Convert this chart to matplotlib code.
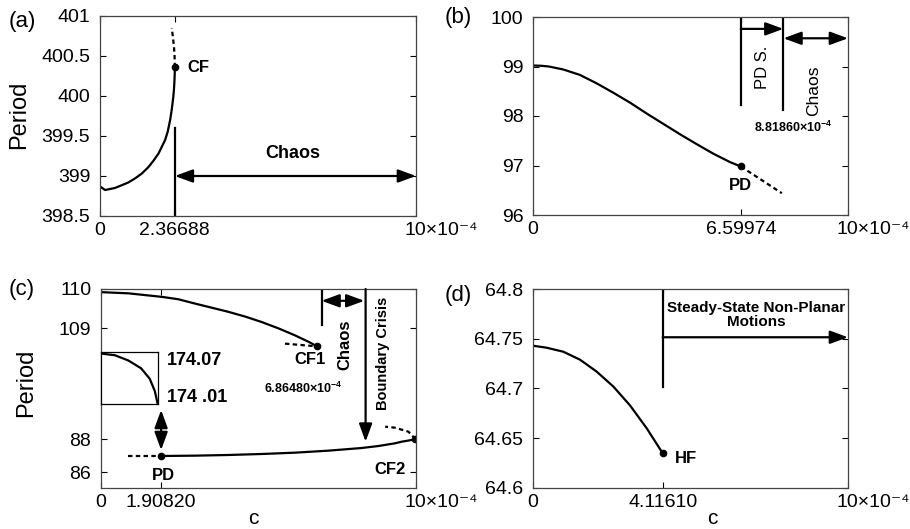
import numpy as np
import matplotlib
matplotlib.use('Agg')
import matplotlib.pyplot as plt
import matplotlib.transforms as mtransforms

plt.rcParams['font.family'] = ['Liberation Sans', 'DejaVu Sans']
plt.rcParams['mathtext.fontset'] = 'custom'
plt.rcParams['mathtext.rm'] = 'Liberation Sans'
plt.rcParams['mathtext.bf'] = 'Liberation Sans:bold'

# ---------------- data (c in units of 1e-4) ----------------
# (a)
ca_solid = [0.0, 0.16, 0.47, 0.69, 0.90, 1.11, 1.32, 1.53, 1.69, 1.85, 1.95, 2.06, 2.14,
            2.22, 2.27, 2.32, 2.34, 2.355, 2.365, 2.36688]
pa_solid = [398.87, 398.825, 398.85, 398.885, 398.92, 398.97, 399.03, 399.11, 399.19, 399.28,
            399.36, 399.45, 399.55, 399.70, 399.83, 399.99, 400.08, 400.18, 400.28, 400.36]
ca_dash = [2.36688, 2.36, 2.34, 2.30, 2.27]
pa_dash = [400.36, 400.50, 400.62, 400.76, 400.85]
ca_cf = 2.36688
pa_cf = 400.36

# (b)
cb_solid = [0.0, 0.25, 0.5, 0.96, 1.49, 2.02, 2.55, 3.08, 3.61, 4.14, 4.67, 5.20, 5.72, 6.25, 6.59974]
pb_solid = [99.02, 99.015, 99.0, 98.94, 98.83, 98.66, 98.47, 98.27, 98.05, 97.84, 97.63, 97.43,
            97.24, 97.07, 96.98]
cb_dash = [6.59974, 7.90]
pb_dash = [96.98, 96.44]
cb_pd = 6.59974
pb_pd = 96.98
cb_pds = 7.95

# (c)
cc_up = [0.0, 0.87, 1.93, 2.45, 2.98, 4.04, 4.57, 5.10, 5.63, 6.16, 6.58, 6.8648]
pc_up = [109.92, 109.89, 109.80, 109.74, 109.63, 109.42, 109.30, 109.16, 109.00, 108.82, 108.66, 108.54]
cc_up_dash = [5.84, 6.8648]
pc_up_dash = [108.61, 108.54]
cc_low = [1.9082, 2.98, 4.04, 5.10, 6.16, 7.22, 7.75, 8.28, 8.81, 9.33, 9.55, 9.86, 9.98]
pc_low = [86.98, 87.00, 87.04, 87.10, 87.18, 87.30, 87.38, 87.46, 87.58, 87.74, 87.84, 87.94, 88.0]
cc_low_dash_l = [0.87, 1.9082]
pc_low_dash_l = [86.98, 86.98]
cc_low_dash_r = [9.98, 9.76, 9.33, 9.02]
pc_low_dash_r = [88.0, 88.44, 88.68, 88.74]
cc_in = [0.0, 0.47, 0.92, 1.35, 1.64, 1.81, 1.9082]
pc_in = [174.068, 174.066, 174.060, 174.051, 174.039, 174.025, 174.01]

# (d)
cd = [0.0, 0.43, 0.96, 1.49, 2.02, 2.55, 3.08, 3.61, 4.1161]
pd_ = [64.743, 64.741, 64.737, 64.729, 64.717, 64.702, 64.683, 64.660, 64.635]

xt_a = [0, 2.36688, 10]; xl_a = ['0', '2.36688', '10×10⁻⁴']
xt_b = [0, 6.59974, 10]; xl_b = ['0', '6.59974', '10×10⁻⁴']
xt_c = [0, 1.90820, 10]; xl_c = ['0', '1.90820', '10×10⁻⁴']
xt_d = [0, 4.11610, 10]; xl_d = ['0', '4.11610', '10×10⁻⁴']
yt_a = [398.5, 399, 399.5, 400, 400.5, 401]; yl_a = ['398.5', '399', '399.5', '400', '400.5', '401']
yt_b = [96, 97, 98, 99, 100]
yt_c = [86, 88, 109, 110]
yt_d = [64.6, 64.65, 64.7, 64.75, 64.8]; yl_d = ['64.6', '64.65', '64.7', '64.75', '64.8']

# ---------------- figure ----------------
W, H = 910, 529
fig = plt.figure(figsize=(W / 100, H / 100), dpi=100)

def axes_px(l, t, r, b):
    return fig.add_axes([l / W, 1 - b / H, (r - l) / W, (b - t) / H])

LW = 1.6
AS = dict(mutation_scale=18, lw=LW, color='k', shrinkA=0, shrinkB=0)
SINGLE = '-|>,head_length=0.6,head_width=0.22'
DOUBLE = '<|-|>,head_length=0.6,head_width=0.22'

def arrow(ax, p0, p1, style, coords='data'):
    ax.annotate('', xy=p1, xytext=p0, xycoords=coords, textcoords=coords,
                arrowprops=dict(arrowstyle=style, **AS), annotation_clip=False)

def style_ax(ax, xt, xl, yt, yl):
    ax.set_xlim(0, 10)
    ax.set_xticks(xt)
    ax.set_xticklabels(xl)
    ax.set_yticks(yt)
    ax.set_yticklabels(yl)
    ax.tick_params(direction='in', length=4, width=0.8, top=True, right=True,
                   labelsize=14, colors='k')
    ax.tick_params(axis='x', pad=4)
    ax.tick_params(axis='y', pad=7)
    for s in ax.spines.values():
        s.set_color('#444444')
        s.set_linewidth(0.9)
    lab = ax.get_xticklabels()[-1]
    lab.set_horizontalalignment('left')
    lab.set_transform(lab.get_transform() +
                      mtransforms.ScaledTranslation(-11 / 100, 0, fig.dpi_scale_trans))

# (a)
axa = axes_px(100, 16, 416, 216)
axa.plot(ca_solid, pa_solid, color='k', lw=LW)
axa.plot(ca_dash, pa_dash, color='k', lw=LW, dashes=(2, 1.5))
axa.plot([ca_cf], [pa_cf], 'o', color='k', ms=4.5)
axa.set_ylim(398.5, 401)
style_ax(axa, xt_a, xl_a, yt_a, yl_a)
axa.plot([ca_cf, ca_cf], [398.5, 399.6], color='k', lw=LW)
arrow(axa, (ca_cf, 399), (10, 399), DOUBLE)
axa.text(2.78, 400.36, 'CF', fontsize=12, fontweight='bold', ha='left', va='center')
axa.text(6.11, 399.28, 'Chaos', fontsize=13, fontweight='bold', ha='center', va='center')

# (b)
axb = axes_px(533, 17, 848, 215)
axb.plot(cb_solid, pb_solid, color='k', lw=LW)
axb.plot(cb_dash, pb_dash, color='k', lw=LW, dashes=(2, 1.5))
axb.plot([cb_pd], [pb_pd], 'o', color='k', ms=4.5)
axb.set_ylim(96, 100)
style_ax(axb, xt_b, xl_b, yt_b, [str(v) for v in yt_b])
axb.plot([cb_pd, cb_pd], [98.22, 100], color='k', lw=LW)
axb.plot([cb_pds, cb_pds], [98.12, 100], color='k', lw=LW)
arrow(axb, (cb_pd, 99.76), (cb_pds, 99.76), SINGLE)
arrow(axb, (cb_pds, 99.57), (10, 99.57), DOUBLE)
axb.text(6.57, 96.6, 'PD', fontsize=12, fontweight='bold', ha='center', va='center')
axb.text(7.29, 98.98, 'PD S.', fontsize=12, rotation=90, ha='center', va='center')
axb.text(8.92, 98.5, 'Chaos', fontsize=12.5, rotation=90, ha='center', va='center')
axb.text(8.25, 97.76, '8.81860×10$^{\\mathbf{-4}}$', fontsize=9, fontweight='bold',
         ha='center', va='center')

# (c) broken y axis via piecewise-linear function scale
axc = axes_px(101, 289, 416, 488.3)
yk = np.array([70.0, 89.5, 107.5, 120.0])
dk = np.array([-250.4, 74.3, 101.05, 592.3])
axc.set_yscale('function', functions=(lambda y: np.interp(y, yk, dk),
                                      lambda d: np.interp(d, dk, yk)))
axc.plot(cc_up, pc_up, color='k', lw=LW)
axc.plot(cc_up_dash, pc_up_dash, color='k', lw=LW, dashes=(2, 1.5))
axc.plot([cc_up[-1]], [pc_up[-1]], 'o', color='k', ms=4.5)
axc.plot(cc_low, pc_low, color='k', lw=LW)
axc.plot(cc_low_dash_l, pc_low_dash_l, color='k', lw=LW, dashes=(2, 1.5))
axc.plot(cc_low_dash_r, pc_low_dash_r, color='k', lw=LW, dashes=(2, 1.5))
axc.plot([cc_low[0]], [pc_low[0]], 'o', color='k', ms=4.5)
axc.plot([cc_low[-1]], [pc_low[-1]], 'o', color='k', ms=4.5)
axc.set_ylim(85.04, 110)
style_ax(axc, xt_c, xl_c, yt_c, [str(v) for v in yt_c])
axc.plot([7.0, 7.0], [109.08, 110], color='k', lw=LW)
arrow(axc, (7.0, 109.70), (8.36, 109.70), DOUBLE)
arrow(axc, (8.40, 110), (8.40, 87.84), SINGLE)
arrow(axc, (1.9082, 0.192), (1.9082, 0.393), DOUBLE, coords=('data', 'axes fraction'))
T = axc.transAxes
axc.text(0.663, 0.644, 'CF1', transform=T, fontsize=12, fontweight='bold', ha='center', va='center')
axc.text(0.775, 0.719, 'Chaos', transform=T, fontsize=12, fontweight='bold', rotation=90,
         ha='center', va='center')
axc.text(0.895, 0.679, 'Boundary Crisis', transform=T, fontsize=10.5, fontweight='bold',
         rotation=90, ha='center', va='center')
axc.text(0.641, 0.503, '6.86480×10$^{\\mathbf{-4}}$', transform=T, fontsize=9,
         fontweight='bold', ha='center', va='center')
axc.text(0.197, 0.062, 'PD', transform=T, fontsize=12, fontweight='bold', ha='center', va='center')
axc.text(0.917, 0.092, 'CF2', transform=T, fontsize=12, fontweight='bold', ha='center', va='center')

ins = axc.inset_axes([0.0, 0.423, 0.18, 0.262])
ins.plot(cc_in, pc_in, color='k', lw=LW)
ins.set_xlim(0, 1.9082)
ins.set_ylim(174.01, 174.07)
ins.set_xticks([]); ins.set_yticks([])
for s in ins.spines.values():
    s.set_color('k'); s.set_linewidth(0.9)
ins.text(1.16, 0.84, '174.07', transform=ins.transAxes, fontsize=13, fontweight='bold',
         ha='left', va='center')
ins.text(1.16, 0.115, '174 .01', transform=ins.transAxes, fontsize=13, fontweight='bold',
         ha='left', va='center')

# (d)
axd = axes_px(533, 289, 848, 488)
axd.plot(cd, pd_, color='k', lw=LW)
axd.plot([cd[-1]], [pd_[-1]], 'o', color='k', ms=4.5)
axd.set_ylim(64.6, 64.8)
style_ax(axd, xt_d, xl_d, yt_d, yl_d)
axd.plot([cd[-1], cd[-1]], [64.702, 64.8], color='k', lw=LW)
arrow(axd, (cd[-1], 64.7515), (10, 64.7515), SINGLE)
axd.text(4.86, 64.630, 'HF', fontsize=12, fontweight='bold', ha='center', va='center')
axd.text(7.08, 64.774, 'Steady-State Non-Planar\nMotions', fontsize=11, fontweight='bold',
         ha='center', va='center', multialignment='center', linespacing=1.05)

# figure-level labels
def ftext(x, y, s, **kw):
    fig.text(x / W, 1 - y / H, s, ha='center', va='center', **kw)

ftext(22, 22, '(a)', fontsize=16)
ftext(458, 17, '(b)', fontsize=16)
ftext(22, 290, '(c)', fontsize=16)
ftext(458, 296, '(d)', fontsize=16)
ftext(19.5, 115, 'Period', fontsize=17, rotation=90)
ftext(26, 383, 'Period', fontsize=17, rotation=90)
ftext(253, 519, 'c', fontsize=15)
ftext(712, 518, 'c', fontsize=15)

fig.savefig('out.png', dpi=100)
